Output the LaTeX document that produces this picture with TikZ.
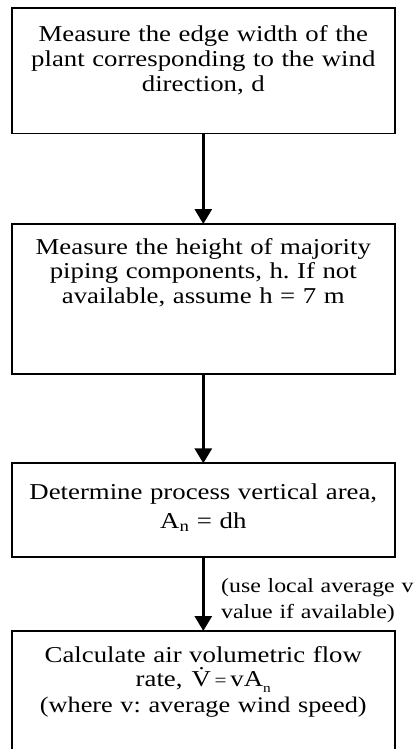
\documentclass[tikz,border=0pt]{standalone}
\usepackage{fontspec}
\setmainfont{Liberation Serif}[FakeStretch=1.18]
\usetikzlibrary{arrows.meta}
\frenchspacing
\begin{document}
\begin{tikzpicture}[x=1pt,y=-1pt,
  box/.style={draw, line width=1.8pt, minimum width=383.3pt, inner sep=0pt, outer sep=0pt, anchor=north},
  txt/.style={text width=400pt, align=center, anchor=base, inner sep=0pt, font=\fontsize{22.7}{24.7}\selectfont},
  lbl/.style={text width=200pt, align=left, anchor=base west, inner sep=0pt, font=\fontsize{20.2}{26}\selectfont},
  flow/.style={line width=3pt, -{Triangle[width=17pt,length=15pt]}}
]
\useasboundingbox (0,0) rectangle (416,749);
\clip (0,0) rectangle (416,749);
\fill[white] (0,0) rectangle (416,749);
% boxes
\node[box, minimum height=125.8pt] (b1) at (203.3,7.7) {};
\node[box, minimum height=149.7pt] (b2) at (203.3,224) {};
\node[box, minimum height=94pt] (b3) at (203.3,463.3) {};
\node[box, minimum height=160pt] (b4) at (203.3,631) {};
% texts
\node[txt] (t1) at (203.3,41.7) {Measure the edge width of the\\ plant corresponding to the wind\\ direction, d};
\node[txt] (t2) at (203.3,254) {Measure the height of majority\\ piping components, h. If not\\ available, assume h = 7 m};
\node[txt] (t3) at (203.3,499) {Determine process vertical area,\\[4.5pt] A\textsubscript{n} = dh};
\node[txt] (t4) at (203.3,662) {Calculate air volumetric flow\\ rate,\hspace{9pt}\.{V}\,{\fontsize{18}{18}\selectfont=}\,vA\raisebox{-6pt}{\fontsize{13}{13}\selectfont n}\\[1pt] {\fontsize{22.3}{24.7}\selectfont (where v: average wind speed)}};
\node[lbl] (l3) at (221,592) {(use local average v\\ value if available)};
% connectors
\draw[flow] (b1.south) -- (b2.north);
\draw[flow] (b2.south) -- (b3.north);
\draw[flow] (b3.south) -- (b4.north);
\end{tikzpicture}
\end{document}
